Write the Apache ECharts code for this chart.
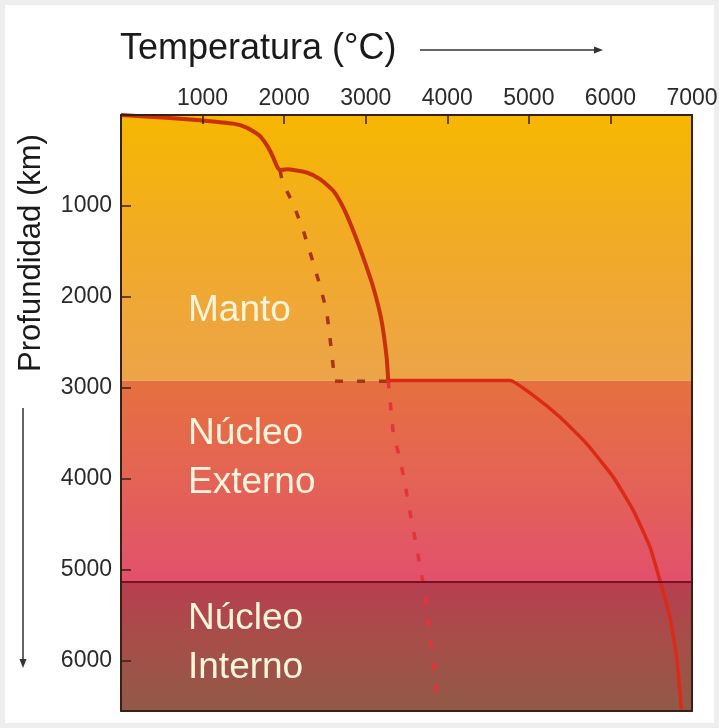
<!DOCTYPE html>
<html>
<head>
<meta charset="utf-8">
<script src="https://cdn.jsdelivr.net/npm/echarts@6/dist/echarts.min.js"></script>
<style>
  html, body { margin: 0; padding: 0; background: #fff; }
  #chart { width: 719px; height: 728px; }
</style>
</head>
<body>
<div id="chart"></div>
<script>
// geotherm (solid line) in the mantle: temperature (ºC) vs depth (km)
const geoMantleTemp  = [0, 560, 968, 1376, 1540, 1703, 1805, 1867, 1908, 1949, 2030, 2275, 2439, 2602, 2724, 2847, 2969, 3092, 3194, 3256, 3276];
const geoMantleDepth = [0, 30, 58, 95, 139, 230, 358, 468, 559, 607, 596, 632, 705, 833, 1016, 1272, 1565, 1893, 2259, 2661, 2917];

// geotherm (solid line) in the core, starting at the core-mantle boundary
const geoCoreTemp  = [3276, 4767, 5053, 5380, 5707, 6033, 6278, 6483, 6605, 6728, 6810, 6871];
const geoCoreDepth = [2917, 2917, 3081, 3319, 3611, 3977, 4342, 4744, 5110, 5512, 5950, 6535];

// melting curve (dashed) in the mantle, ends on the core-mantle boundary
const meltMantleTemp  = [1949, 1981, 2112, 2235, 2337, 2439, 2520, 2561, 2602, 2615, 3276];
const meltMantleDepth = [607, 742, 979, 1272, 1565, 1875, 2149, 2442, 2771, 2925, 2925];

// melting curve (dashed) in the core
const meltCoreTemp  = [3276, 3337, 3419, 3480, 3542, 3603, 3664, 3725, 3766, 3807, 3848, 3875];
const meltCoreDepth = [2917, 3501, 3775, 4049, 4360, 4652, 4945, 5256, 5548, 5841, 6133, 6500];

// layers
const layerNames  = ['Manto', 'Núcleo Externo', 'Núcleo Interno'];
const layerBounds = [0, 2920, 5130, 6550];

const tempMax = 7000;
const depthMax = 6550;

const FONT = 'Liberation Sans, Arial, sans-serif';
const chart = echarts.init(document.getElementById('chart'));

const grad = (stops) => new echarts.graphic.LinearGradient(0, 0, 0, 1,
  stops.map((c, i) => ({ offset: i / (stops.length - 1), color: c })));
const layerFills = [
  grad(['#f6b700', '#f2aa28', '#eca44a']),
  grad(['#e6703e', '#e46356', '#e2506c']),
  grad(['#b83e50', '#a54f48', '#905a47'])
];

const pairs = (xs, ys) => xs.map((x, i) => [x, ys[i]]);

// label positions (pixels) for the layer names
const layerLabelPos = [
  [[188, 311]],
  [[188, 434], [188, 483]],
  [[188, 619], [188, 668]]
];
const labelGraphics = [];
layerNames.forEach((name, i) => {
  name.split(' ').forEach((w, j) => {
    labelGraphics.push({
      type: 'text', z: 20,
      style: {
        text: w, x: layerLabelPos[i][j][0], y: layerLabelPos[i][j][1],
        fill: '#fff4dc', font: '37px ' + FONT, verticalAlign: 'middle'
      }
    });
  });
});

const frameColor = '#3a2014';

chart.setOption({
  backgroundColor: '#ffffff',
  animation: false,
  grid: { left: 121, right: 27, top: 115, bottom: 17, containLabel: false, outerBoundsMode: 'none' },
  xAxis: [{
    type: 'value', position: 'top', min: 0, max: tempMax, interval: 1000,
    axisLine: { show: true, lineStyle: { color: frameColor, width: 2 } },
    axisTick: { show: true, inside: true, length: 9, lineStyle: { color: frameColor, width: 1.5 } },
    axisLabel: {
      fontSize: 23, color: '#2a2a2a', fontFamily: FONT, margin: 5,
      formatter: v => (v === 0 ? '' : String(v))
    },
    splitLine: { show: false }, z: 10
  }, {
    type: 'value', position: 'bottom', min: 0, max: tempMax,
    axisLine: { show: true, onZero: false, lineStyle: { color: frameColor, width: 2 } },
    axisTick: { show: false }, axisLabel: { show: false }, splitLine: { show: false }, z: 10
  }],
  yAxis: [{
    type: 'value', inverse: true, min: 0, max: depthMax, interval: 1000,
    axisLine: { show: true, lineStyle: { color: frameColor, width: 2 } },
    axisTick: { show: true, inside: true, length: 10, lineStyle: { color: frameColor, width: 1.5 } },
    axisLabel: {
      fontSize: 23, color: '#2a2a2a', fontFamily: FONT, margin: 9,
      formatter: v => (v === 0 || v % 1000 ? '' : String(v))
    },
    splitLine: { show: false }, z: 10
  }, {
    type: 'value', position: 'right', inverse: true, min: 0, max: depthMax,
    axisLine: { show: true, onZero: false, lineStyle: { color: frameColor, width: 2 } },
    axisTick: { show: false }, axisLabel: { show: false }, splitLine: { show: false }, z: 10
  }],
  series: [
    {
      type: 'line', data: [[0, 0]], z: 1, silent: true, symbol: 'none',
      lineStyle: { opacity: 0 },
      markArea: {
        silent: true,
        data: layerNames.map((n, i) => [
          { yAxis: layerBounds[i], itemStyle: { color: layerFills[i] } },
          { yAxis: layerBounds[i + 1] }
        ])
      },
      markLine: {
        silent: true, symbol: 'none', label: { show: false },
        lineStyle: { color: '#7a1020', width: 2, type: 'solid' },
        data: [{ yAxis: layerBounds[2] }]
      }
    },
    {
      name: 'geoterma manto', type: 'line', z: 4, symbol: 'none', smooth: 0.2,
      data: pairs(geoMantleTemp, geoMantleDepth),
      lineStyle: { width: 4, color: '#c9300c' }
    },
    {
      name: 'geoterma núcleo', type: 'line', z: 4, symbol: 'none', smooth: 0.15,
      data: pairs(geoCoreTemp, geoCoreDepth),
      lineStyle: { width: 3.5, color: '#dc2a18' }
    },
    {
      name: 'fusión manto', type: 'line', z: 3, symbol: 'none',
      data: pairs(meltMantleTemp, meltMantleDepth),
      lineStyle: { width: 3.5, color: '#a8341a', type: [8, 14] }
    },
    {
      name: 'fusión núcleo', type: 'line', z: 3, symbol: 'none',
      data: pairs(meltCoreTemp, meltCoreDepth),
      lineStyle: { width: 3.5, color: '#e2343a', type: [8, 14] }
    }
  ],
  graphic: [
    { type: 'rect', z: 0, silent: true, shape: { x: 0, y: 0, width: 719, height: 728 },
      style: { fill: 'none', stroke: '#eeeeee', lineWidth: 10 } },
    { type: 'text', z: 20, style: { text: 'Temperatura (°C)', x: 120, y: 49, font: '36px ' + FONT,
      fill: '#1a1a1a', verticalAlign: 'middle' } },
    { type: 'line', z: 20, shape: { x1: 420, y1: 50, x2: 597, y2: 50 },
      style: { stroke: '#333', lineWidth: 1.5 } },
    { type: 'polygon', z: 20, shape: { points: [[603, 50], [594, 46.5], [594, 53.5]] },
      style: { fill: '#333' } },
    { type: 'text', z: 20, x: 31, y: 253, rotation: Math.PI / 2,
      style: { text: 'Profundidad (km)', x: 0, y: 0, font: '31px ' + FONT, fill: '#1a1a1a',
        align: 'center', verticalAlign: 'middle' } },
    { type: 'line', z: 20, shape: { x1: 23, y1: 408, x2: 23, y2: 661 },
      style: { stroke: '#333', lineWidth: 1.5 } },
    { type: 'polygon', z: 20, shape: { points: [[23, 668], [19.5, 659], [26.5, 659]] },
      style: { fill: '#333' } }
  ].concat(labelGraphics)
});
</script>
</body>
</html>
